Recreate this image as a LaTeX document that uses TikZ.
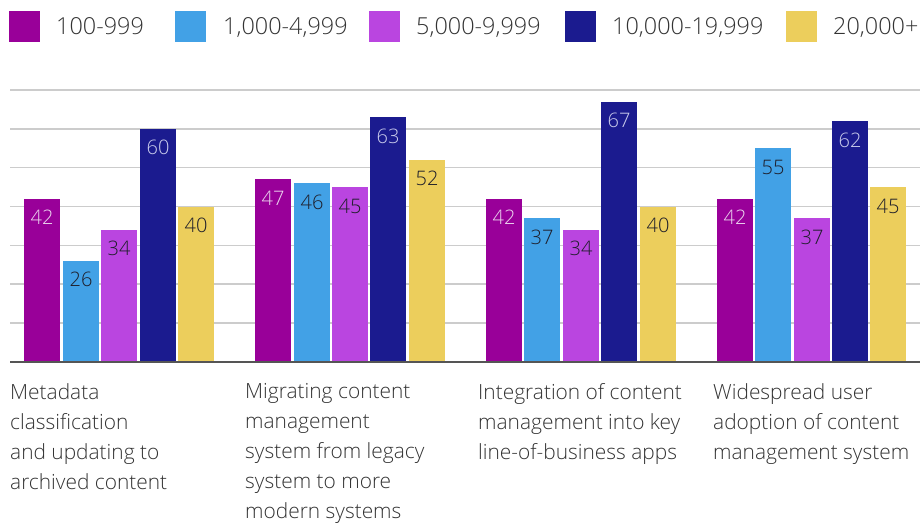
\documentclass[tikz,border=0pt]{standalone}
\usepackage{fontspec}
\setmainfont{Open Sans Light}
\definecolor{cA}{HTML}{990099}
\definecolor{cB}{HTML}{42A1E6}
\definecolor{cC}{HTML}{BA45E0}
\definecolor{cD}{HTML}{1B1B8F}
\definecolor{cE}{HTML}{ECCE5C}
\definecolor{lightA}{HTML}{EBD6EE}
\definecolor{lightD}{HTML}{CACCEC}
\definecolor{darkT}{HTML}{1E1E2A}
\definecolor{txt}{HTML}{333333}
\definecolor{gridc}{HTML}{CCCCCC}
\definecolor{axisc}{HTML}{555555}
\tikzset{
  gridln/.style={draw=gridc,line width=1.5pt},
  axisln/.style={draw=axisc,line width=2pt},
  barbox/.style={anchor=south west,inner sep=0pt,outer sep=0pt,minimum width=36pt,draw=none},
  val/.style={anchor=base,inner sep=0pt,font=\fontsize{20}{24}\selectfont},
  legsq/.style={anchor=north west,inner sep=0pt,minimum width=31pt,minimum height=31pt},
  legtxt/.style={anchor=base west,inner sep=0pt,text=txt,font=\fontsize{23.4}{28}\selectfont},
  cattxt/.style={anchor=north west,inner sep=0pt,align=left,text=txt,font=\fontsize{20.9}{30}\selectfont}
}
\newcommand\mybar[5]{%
  \node[barbox,fill=#4,minimum height=#3*3.88pt] (#1) at (#2,361.7) {};
  \node[val,text=#5] (#1v) at ([yshift=-26pt]#1.north) {#3};
}
\begin{document}
\begin{tikzpicture}[x=1pt,y=-1pt]
\useasboundingbox (0,0) rectangle (920,523);
% gridlines
\foreach \v in {1,...,7}{
  \draw[gridln] (10,{361.7-\v*38.8}) -- (920,{361.7-\v*38.8});
}
% group 1
\mybar{a1}{24}{42}{cA}{lightA}
\mybar{a2}{63}{26}{cB}{darkT}
\mybar{a3}{101}{34}{cC}{darkT}
\mybar{a4}{140}{60}{cD}{lightD}
\mybar{a5}{178}{40}{cE}{darkT}
% group 2
\mybar{b1}{255}{47}{cA}{lightA}
\mybar{b2}{294}{46}{cB}{darkT}
\mybar{b3}{332}{45}{cC}{darkT}
\mybar{b4}{370}{63}{cD}{lightD}
\mybar{b5}{409}{52}{cE}{darkT}
% group 3
\mybar{c1}{486}{42}{cA}{lightA}
\mybar{c2}{524}{37}{cB}{darkT}
\mybar{c3}{563}{34}{cC}{darkT}
\mybar{c4}{601}{67}{cD}{lightD}
\mybar{c5}{640}{40}{cE}{darkT}
% group 4
\mybar{d1}{717}{42}{cA}{lightA}
\mybar{d2}{755}{55}{cB}{darkT}
\mybar{d3}{794}{37}{cC}{darkT}
\mybar{d4}{832}{62}{cD}{lightD}
\mybar{d5}{870}{45}{cE}{darkT}
% axis
\draw[axisln] (10,361.7) -- (920,361.7);
% legend
\node[legsq,fill=cA] (l1) at (9,11) {};
\node[legtxt] (t1) at (56,34.3) {100-999};
\node[legsq,fill=cB] (l2) at (175,11) {};
\node[legtxt] (t2) at (223,34.3) {1,000-4,999};
\node[legsq,fill=cC] (l3) at (369,11) {};
\node[legtxt] (t3) at (416,34.3) {5,000-9,999};
\node[legsq,fill=cD] (l4) at (565,11) {};
\node[legtxt] (t4) at (612,34.3) {10,000-19,999};
\node[legsq,fill=cE] (l5) at (786,11) {};
\node[legtxt] (t5) at (833,34.3) {20,000+};
% category labels
\node[cattxt] (k1) at (10,383) {Metadata\\classification\\and updating to\\archived content};
\node[cattxt] (k2) at (245,383) {Migrating content\\management\\system from legacy\\system to more\\modern systems};
\node[cattxt] (k3) at (478,383) {Integration of content\\management into key\\line-of-business apps};
\node[cattxt] (k4) at (713,383) {Widespread user\\adoption of content\\management system};
\end{tikzpicture}
\end{document}
